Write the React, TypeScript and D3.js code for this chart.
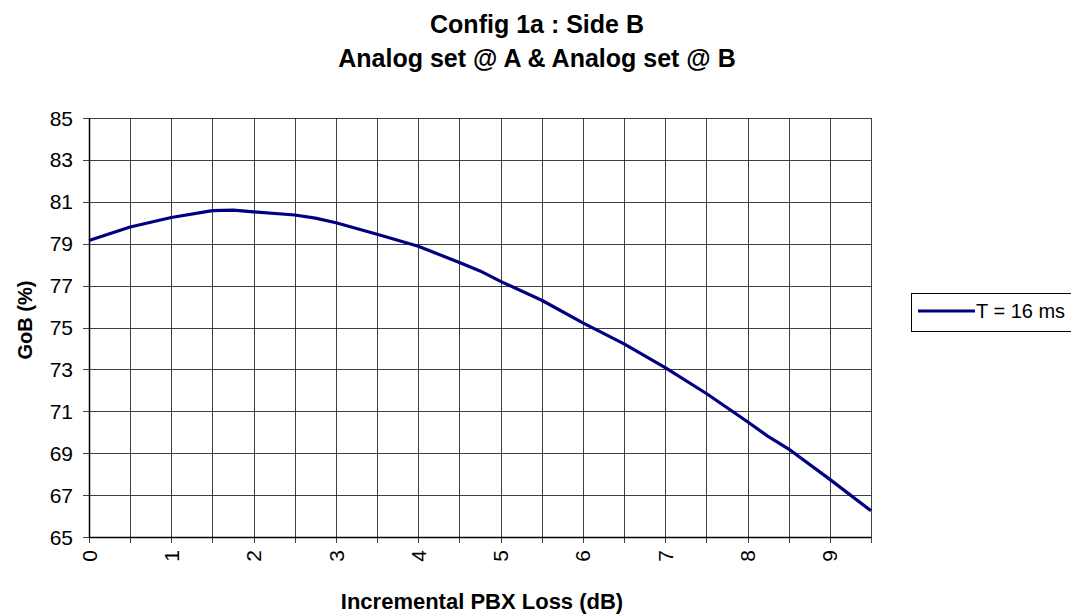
import React from "react";
import * as d3 from "d3";

const lossDb = [0, 0.5, 1, 1.5, 1.75, 2, 2.5, 2.75, 3, 3.5, 4, 4.5, 4.75, 5, 5.5, 6, 6.5, 7, 7.5, 8, 8.25, 8.5, 9, 9.5];
const gobT16 = [79.15, 79.8, 80.25, 80.58, 80.6, 80.52, 80.37, 80.22, 80.0, 79.45, 78.88, 78.1, 77.7, 77.2, 76.3, 75.22, 74.22, 73.08, 71.85, 70.5, 69.8, 69.2, 67.75, 66.25];
const xTicks = [0, 1, 2, 3, 4, 5, 6, 7, 8, 9];
const xGrid = d3.range(0, 9.51, 0.5);
const yTicks = [65, 67, 69, 71, 73, 75, 77, 79, 81, 83, 85];
const titleLines = ["Config 1a : Side B", "Analog set @ A & Analog set @ B"];
const seriesName = "T = 16 ms";

export default function App() {
  const W = 1071, H = 615;
  const left = 89, right = 871, top = 118, bottom = 537;
  const x = d3.scaleLinear().domain([0, 9.5]).range([left, right]);
  const y = d3.scaleLinear().domain([65, 85]).range([bottom, top]);
  const line = d3.line<number>().x((_, i) => x(lossDb[i])).y((d) => y(d));
  const font = "'Liberation Sans', Arial, sans-serif";
  const r = (v: number) => Math.round(v) + 0.5;
  return (
    <svg width={W} height={H} style={{ position: "absolute", left: 0, top: 0, background: "#fff" }} fontFamily={font}>
      <rect x={0} y={0} width={W} height={H} fill="#fff" />
      {titleLines.map((t, i) => (
        <text key={t} x={537} y={33 + i * 34} textAnchor="middle" fontWeight="bold" fontSize={25}>{t}</text>
      ))}
      {xGrid.map((v) => (
        <line key={"gx" + v} x1={r(x(v))} x2={r(x(v))} y1={top} y2={bottom + 6} stroke="#000" strokeOpacity={0.75} strokeWidth={1} />
      ))}
      {yTicks.map((v) => (
        <line key={"gy" + v} x1={left - 6} x2={right} y1={r(y(v))} y2={r(y(v))} stroke="#000" strokeOpacity={0.75} strokeWidth={1} />
      ))}
      <line x1={r(left)} x2={r(left)} y1={top} y2={bottom} stroke="#000" strokeWidth={1.5} />
      <line x1={left} x2={right} y1={r(bottom)} y2={r(bottom)} stroke="#000" strokeWidth={1.5} />
      {yTicks.map((v) => (
        <text key={"yl" + v} x={73} y={y(v)} dy="0.36em" textAnchor="end" fontSize={21}>{v}</text>
      ))}
      {xTicks.map((v) => (
        <text key={"xl" + v} transform={`translate(${x(v)},${bottom + 13}) rotate(-90)`} dy="0.36em" textAnchor="end" fontSize={21}>{v}</text>
      ))}
      <path d={line(gobT16) || ""} fill="none" stroke="#000080" strokeWidth={3.2} strokeLinejoin="round" />
      <text transform={`translate(${32},${320}) rotate(-90)`} textAnchor="middle" fontWeight="bold" fontSize={20}>GoB (%)</text>
      <text x={482} y={609} textAnchor="middle" fontWeight="bold" fontSize={22}>Incremental PBX Loss (dB)</text>
      <rect x={911.5} y={293.5} width={170} height={38} fill="#fff" stroke="#000" strokeWidth={1} />
      <line x1={918} x2={975} y1={311} y2={311} stroke="#000080" strokeWidth={3.2} />
      <text x={976} y={318} fontSize={20}>{seriesName}</text>
    </svg>
  );
}
